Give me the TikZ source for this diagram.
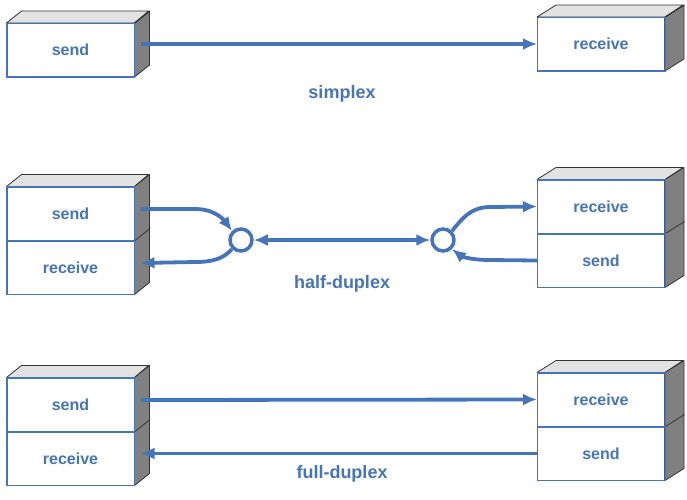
\documentclass[tikz,border=0pt]{standalone}
\usepackage{fontspec}
\setmainfont{Liberation Sans}
\usetikzlibrary{positioning,arrows.meta}
\definecolor{linkblue}{RGB}{70,116,184}
\definecolor{topgray}{RGB}{226,226,226}
\definecolor{sidegray}{RGB}{128,128,128}

\begin{document}
\begin{tikzpicture}[x=1pt,y=-1pt,
	face/.style={draw=linkblue,line width=1pt,fill=white,minimum width=127pt,minimum height=53pt,
		inner sep=0pt,text=linkblue,font=\fontsize{16}{18}\selectfont\bfseries},
	shade3d/.style={draw=black!80,line width=0.8pt,line join=round},
	flow/.style={draw=linkblue,line width=3.8pt,-{Latex[length=14pt,width=12pt]}},
	junction/.style={circle,draw=linkblue,line width=3.5pt,fill=white,minimum size=22pt,inner sep=0pt},
	caption/.style={text=linkblue,font=\fontsize{18}{20}\selectfont\bfseries}]
	\useasboundingbox (0,0) rectangle (687,499);
	% simplex
	\node[face] (s1) at (70.5,50) {send};
	\node[face] (r1) at (601,44) {receive};
	% half-duplex
	\node[face] (s2) at (70.5,213.5) {send};
	\node[face,below=0pt of s2] (r2) {receive};
	\node[face] (r3) at (601,206.5) {receive};
	\node[face,below=0pt of r3] (s3) {send};
	% full-duplex
	\node[face] (s4) at (70.5,404.5) {send};
	\node[face,below=0pt of s4] (r4) {receive};
	\node[face] (r5) at (601,399.5) {receive};
	\node[face,below=0pt of r5] (s5) {send};
	% top and side faces
	\foreach \up/\low/\d in {s1/s1/15, r1/r1/19, s2/r2/15, r3/s3/19, s4/r4/15, r5/s5/19} {
		\draw[shade3d,fill=topgray] (\up.north west) -- ++(\d,-12) -- ++(127,0) -- (\up.north east) -- cycle;
		\draw[shade3d,fill=sidegray] (\up.north east) -- ++(\d,-12) |- ([xshift=\d pt,yshift=12pt]\low.south east) -- (\low.south east) -- cycle;
		\draw[shade3d] ([xshift=0.5pt]\low.north east) -- ++(\d,-12);
	}
	\foreach \n in {s1,r1,s2,r2,r3,s3,s4,r4,r5,s5}
		\draw[linkblue,line width=1pt] (\n.south west) rectangle (\n.north east);
	\node[caption] (simplex) at (342,94) {simplex};
	\node[caption] (half) at (342,284) {half-duplex};
	\node[caption] (full) at (342,474) {full-duplex};
	% simplex link
	\draw[flow] ([xshift=6pt,yshift=6pt]s1.east) -- (r1.west);
	% half-duplex links
	\node[junction] (jl) at (241,240) {};
	\node[junction] (jr) at (443,240) {};
	\draw[flow,{Latex[length=14pt,width=12pt]}-{Latex[length=14pt,width=12pt]}] (jl) -- (jr);
	\draw[flow] ([xshift=6pt,yshift=4.5pt]s2.east) -- (195,209) .. controls (215,209) and (224,220) .. (jl.135);
	\draw[flow] (jl.225) .. controls (224,258) and (214,262) .. (195,262) -- ([xshift=6pt,yshift=4.5pt]r2.east);
	\draw[flow] (jr.45) .. controls (461,220) and (470,207) .. (490,207) -- (r3.west);
	\draw[flow] (s3.west) -- (490,260) .. controls (470,260) and (461,256) .. (jr.315);
	% full-duplex links
	\draw[flow] ([xshift=6pt,yshift=4.5pt]s4.east) -- (r5.west);
	\draw[flow] (s5.west) -- ([xshift=6pt,yshift=5pt]r4.east);
\end{tikzpicture}
\end{document}
